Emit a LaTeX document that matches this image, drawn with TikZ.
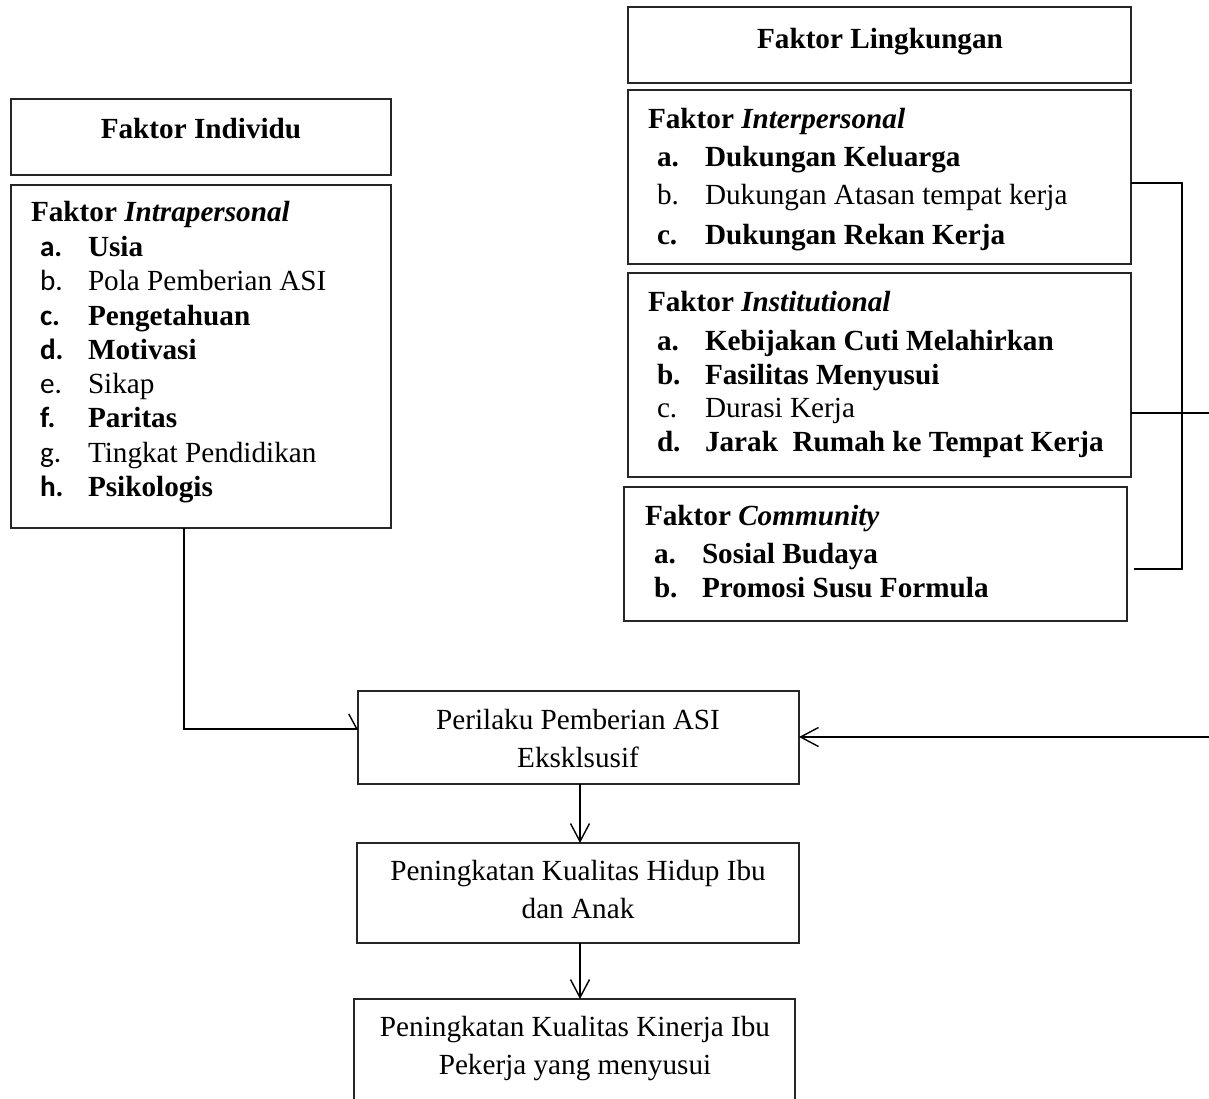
\documentclass[tikz,border=0pt]{standalone}
\usepackage{fontspec}
\setmainfont{Liberation Serif}
\newfontfamily\lblfont{Carlito}
\usetikzlibrary{arrows.meta}

\begin{document}
\begin{tikzpicture}[x=1pt,y=-1pt,
  every node/.style={inner sep=0pt, outer sep=0pt},
  box/.style={draw=black!85, line width=1.3pt, rectangle, anchor=north west},
  body/.style={font=\fontsize{29.2}{35}\selectfont},
  tl/.style={body, anchor=base west},
  tc/.style={body, anchor=base},
  wire/.style={line width=1.8pt, line join=miter},
  thin wire/.style={line width=1.4pt},
  barb/.style={-{Straight Barb[length=18pt, width=19pt, line width=1.4pt]}},
]
\useasboundingbox (0,0) rectangle (1209,1099);
\clip (0,0) rectangle (1209,1099);

% ---------- individual factors ----------
\node[box, minimum width=380, minimum height=76] (indiv) at (11,99) {};
\node[tc, font=\fontsize{29.2}{35}\selectfont\bfseries] (indivT) at (201,139) {Faktor Individu};

\node[box, minimum width=380, minimum height=343] (intra) at (11,185) {};
\node[tl] (intraH) at (31,222) {\bfseries Faktor \textit{Intrapersonal}};
\node[tl] (la) at (40,256) {\lblfont\bfseries a.};
\node[tl] (ta) at (88,256) {\bfseries Usia};
\node[tl] (lb) at (40,290) {\lblfont b.};
\node[tl] (tb) at (88,290) {Pola Pemberian ASI};
\node[tl] (lc) at (40,325) {\lblfont\bfseries c.};
\node[tl] (tcc) at (88,325) {\bfseries Pengetahuan};
\node[tl] (ld) at (40,359) {\lblfont\bfseries d.};
\node[tl] (td) at (88,359) {\bfseries Motivasi};
\node[tl] (le) at (40,393) {\lblfont e.};
\node[tl] (te) at (88,393) {Sikap};
\node[tl] (lf) at (40,427) {\lblfont\bfseries f.};
\node[tl] (tf) at (88,427) {\bfseries Paritas};
\node[tl] (lg) at (40,462) {\lblfont g.};
\node[tl] (tg) at (88,462) {Tingkat Pendidikan};
\node[tl] (lh) at (40,496) {\lblfont\bfseries h.};
\node[tl] (th) at (88,496) {\bfseries Psikologis};

% ---------- environmental factors ----------
\node[box, minimum width=503, minimum height=76] (env) at (628,7) {};
\node[tc, font=\fontsize{29.2}{35}\selectfont\bfseries] (envT) at (880,49) {Faktor Lingkungan};

\node[box, minimum width=503, minimum height=174] (inter) at (628,90) {};
\node[tl] (interH) at (648,129) {\bfseries Faktor \textit{Interpersonal}};
\node[tl] (ia) at (657,167) {\bfseries a.};
\node[tl] (iat) at (705,167) {\bfseries Dukungan Keluarga};
\node[tl] (ib) at (657,205) {b.};
\node[tl] (ibt) at (705,205) {Dukungan Atasan tempat kerja};
\node[tl] (ic) at (657,244) {\bfseries c.};
\node[tl] (ict) at (705,244) {\bfseries Dukungan Rekan Kerja};

\node[box, minimum width=503, minimum height=204] (inst) at (628,273) {};
\node[tl] (instH) at (648,311) {\bfseries Faktor \textit{Institutional}};
\node[tl] (sa) at (657,350) {\bfseries a.};
\node[tl] (sat) at (705,350) {\bfseries Kebijakan Cuti Melahirkan};
\node[tl] (sb) at (657,384) {\bfseries b.};
\node[tl] (sbt) at (705,384) {\bfseries Fasilitas Menyusui};
\node[tl] (sc) at (657,417) {c.};
\node[tl] (sct) at (705,417) {Durasi Kerja};
\node[tl] (sd) at (657,451) {\bfseries d.};
\node[tl] (sdt) at (705,451) {\bfseries Jarak\ \ Rumah ke Tempat Kerja};

\node[box, minimum width=503, minimum height=134] (comm) at (624,487) {};
\node[tl] (commH) at (645,525) {\bfseries Faktor \textit{Community}};
\node[tl] (ca) at (654,563) {\bfseries a.};
\node[tl] (cat) at (702,563) {\bfseries Sosial Budaya};
\node[tl] (cb) at (654,597) {\bfseries b.};
\node[tl] (cbt) at (702,597) {\bfseries Promosi Susu Formula};

% ---------- outcome chain ----------
\node[box, minimum width=441, minimum height=93] (perilaku) at (358,691) {};
\node[tc] (perT1) at (578,729) {Perilaku Pemberian ASI};
\node[tc] (perT2) at (578,767) {Eksklsusif};

\node[box, minimum width=442, minimum height=100] (hidup) at (357,843) {};
\node[tc] (hidT1) at (578,880) {Peningkatan Kualitas Hidup Ibu};
\node[tc] (hidT2) at (578,918) {dan Anak};

\node[box, minimum width=441, minimum height=115] (kinerja) at (354,999) {};
\node[tc] (kinT1) at (575,1036) {Peningkatan Kualitas Kinerja Ibu};
\node[tc] (kinT2) at (575,1074) {Pekerja yang menyusui};

% ---------- connectors ----------
\coordinate (intraOut) at (184,528);
\coordinate (intraBend) at (184,729);
\draw[wire] (intraOut) -- (intraBend) -- (perilaku.west |- intraBend);
\draw[thin wire, -{Straight Barb[harpoon, length=8pt, width=30pt, line width=1.4pt]}]
  ([xshift=-12pt]perilaku.west |- intraBend) -- (perilaku.west |- intraBend);

\coordinate (brTop) at (1182,183);
\coordinate (brBot) at (1182,569);
\coordinate (commOut) at (1134,569);
\coordinate (envMid) at (1182,413);
\coordinate (envFar) at (1216,413);
\coordinate (envDown) at (1216,737);
\draw[wire] (inter.east |- brTop) -- (brTop) -- (brBot) -- (commOut);
\draw[wire] (inst.east |- envMid) -- (envFar) -- (envDown);
\draw[wire, barb] (envDown) -- (perilaku.east |- envDown);

\draw[thin wire, barb] (perilaku.south -| 580,0) -- (hidup.north -| 580,0);
\draw[thin wire, barb] (hidup.south -| 580,0) -- (kinerja.north -| 580,0);
\end{tikzpicture}
\end{document}
